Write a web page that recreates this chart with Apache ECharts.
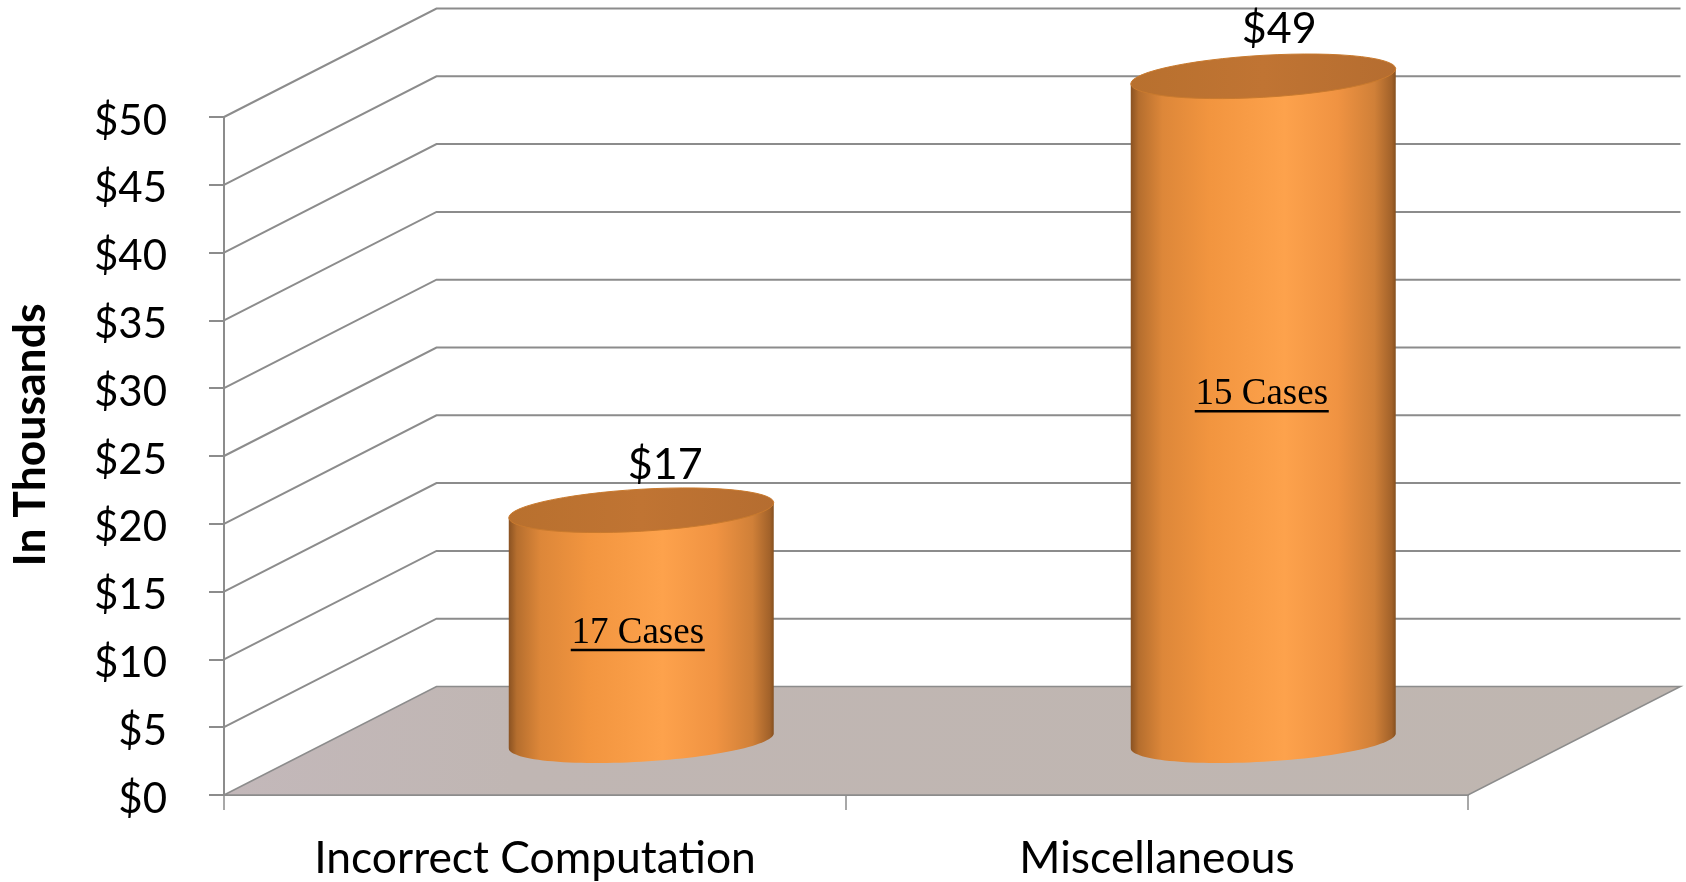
<!DOCTYPE html>
<html>
<head>
<meta charset="utf-8">
<title>Cost by category</title>
<script src="https://cdn.jsdelivr.net/npm/echarts@6/dist/echarts.min.js"></script>
<style>
  html, body { margin: 0; padding: 0; background: #fff; }
  #chart { width: 1686px; height: 882px; }
</style>
</head>
<body>
<div id="chart"></div>
<script>
// Chart data, costs in thousands of dollars
const categories = ['Incorrect Computation', 'Miscellaneous'];
const costs = [17, 49];
const caseCounts = [17, 15];
const valueTicks = [0, 5, 10, 15, 20, 25, 30, 35, 40, 45, 50];

// Height on the value scale at which each "N Cases" note sits
const caseNoteLevels = [7.95, 25.55];
// Sideways nudge of each note and of each "$N" label from its cylinder's centre
const caseNoteNudge = [-3.5, -1.5];
const valueLabelNudge = [24, 16];
const valueLabelLift = [45, 47];

// Pseudo-3D projection: how far the back wall sits from the front plane
const DEPTH_X = 212.5;
const DEPTH_Y = -108.5;
const BAR_RATIO = 0.213;
const ELLIPSE_MINOR = 21;
const ELLIPSE_SHEAR = 7.5;

const AXIS_GREY = '#8c8c8c';
const SANS = 'Lato, Carlito, sans-serif';
const SERIF = '"Liberation Serif", serif';

// Points of the tilted ellipse for a cylinder cap, between two angles
function capPoints(cx, cy, a, from, to) {
  const pts = [];
  const steps = 60;
  for (let i = 0; i <= steps; i++) {
    const t = from + (to - from) * i / steps;
    pts.push([
      cx + a * Math.cos(t),
      cy - ELLIPSE_SHEAR * Math.cos(t) + ELLIPSE_MINOR * Math.sin(t)
    ]);
  }
  return pts;
}

// Floor, side wall gridlines and back wall gridlines for one tick value
function renderWall(params, api) {
  const grid = params.coordSys;
  const v = api.value(1);
  const y = api.coord([0, v])[1];
  const x0 = grid.x;
  const x1 = grid.x + grid.width;
  const lineStyle = { stroke: AXIS_GREY, lineWidth: 2, fill: null };
  const children = [];
  if (v === 0) {
    children.push({
      type: 'polygon',
      shape: { points: [[x0, y], [x0 + DEPTH_X, y + DEPTH_Y], [x1 + DEPTH_X, y + DEPTH_Y], [x1, y]] },
      style: {
        fill: {
          type: 'linear', x: 0, y: 0, x2: 1, y2: 0,
          colorStops: [
            { offset: 0, color: '#c3b8ba' },
            { offset: 0.2, color: '#c0b6b3' },
            { offset: 1, color: '#bfb6b0' }
          ]
        },
        stroke: AXIS_GREY,
        lineWidth: 1.5
      }
    });
  } else {
    children.push({
      type: 'polyline',
      shape: { points: [[x0, y], [x0 + DEPTH_X, y + DEPTH_Y], [x1 + DEPTH_X, y + DEPTH_Y]] },
      style: lineStyle
    });
  }
  return { type: 'group', children };
}

// One cylinder with its value label and its case-count note
function renderCylinder(params, api) {
  const i = api.value(0);
  const v = api.value(1);
  const base = api.coord([i, 0]);
  const top = api.coord([i, v]);
  const a = api.size([1, 0])[0] * BAR_RATIO;
  const cx = base[0] + DEPTH_X / 2;
  const baseY = base[1] + DEPTH_Y / 2;
  const topY = top[1] + DEPTH_Y / 2;

  const bodyPoints = [[cx - a, topY + ELLIPSE_SHEAR]]
    .concat(capPoints(cx, baseY, a, Math.PI, 0))
    .concat([[cx + a, topY - ELLIPSE_SHEAR]]);

  const noteY = api.coord([i, caseNoteLevels[params.dataIndex]])[1] + DEPTH_Y / 2;
  const noteX = cx + caseNoteNudge[params.dataIndex];
  const noteWidth = 134;

  return {
    type: 'group',
    children: [
      {
        type: 'polygon',
        shape: { points: bodyPoints },
        style: {
          fill: {
            type: 'linear', x: 0, y: 0, x2: 1, y2: 0,
            colorStops: [
              { offset: 0, color: '#8a5222' },
              { offset: 0.03, color: '#b56e2e' },
              { offset: 0.12, color: '#dd8739' },
              { offset: 0.3, color: '#f2953f' },
              { offset: 0.58, color: '#fda24c' },
              { offset: 0.78, color: '#f09342' },
              { offset: 0.92, color: '#d08038' },
              { offset: 0.985, color: '#a2622a' },
              { offset: 1, color: '#85501f' }
            ]
          }
        }
      },
      {
        type: 'polygon',
        shape: { points: capPoints(cx, topY, a, 0, Math.PI * 2) },
        style: {
          fill: {
            type: 'linear', x: 0, y: 0, x2: 1, y2: 0,
            colorStops: [
              { offset: 0, color: '#b8702e' },
              { offset: 0.5, color: '#c07433' },
              { offset: 1, color: '#b56d30' }
            ]
          },
          stroke: '#c97a2e',
          lineWidth: 1
        }
      },
      {
        type: 'text',
        style: {
          text: '$' + v,
          x: cx + valueLabelNudge[params.dataIndex],
          y: topY - valueLabelLift[params.dataIndex],
          align: 'center',
          verticalAlign: 'middle',
          fontFamily: SANS,
          fontSize: 43,
          fill: '#000'
        }
      },
      {
        type: 'text',
        style: {
          text: caseCounts[params.dataIndex] + ' Cases',
          x: noteX,
          y: noteY,
          align: 'center',
          verticalAlign: 'middle',
          fontFamily: SERIF,
          fontSize: 37,
          fill: '#000'
        }
      },
      {
        type: 'line',
        shape: {
          x1: noteX - noteWidth / 2, y1: noteY + 17,
          x2: noteX + noteWidth / 2, y2: noteY + 17
        },
        style: { stroke: '#000', lineWidth: 2.5 }
      }
    ]
  };
}

const chart = echarts.init(document.getElementById('chart'), null, { renderer: 'canvas' });
chart.setOption({
  animation: false,
  backgroundColor: '#fff',
  grid: { left: 224, top: 117, width: 1244, height: 678, containLabel: false, outerBoundsMode: 'none' },
  xAxis: {
    type: 'category',
    data: categories,
    axisLine: { lineStyle: { color: AXIS_GREY, width: 2 } },
    axisTick: { show: true, alignWithLabel: false, length: 15, lineStyle: { color: AXIS_GREY, width: 1.5 } },
    axisLabel: { margin: 42, color: '#000', fontFamily: SANS, fontSize: 44.4 },
    splitLine: { show: false }
  },
  yAxis: {
    type: 'value',
    min: 0,
    max: 50,
    interval: 5,
    name: 'In Thousands',
    nameLocation: 'middle',
    nameGap: 171,
    nameRotate: 90,
    nameTextStyle: { color: '#000', fontFamily: SANS, fontWeight: 'bold', fontSize: 44.5, padding: [0, 0, 0, 42] },
    axisLine: { show: true, lineStyle: { color: AXIS_GREY, width: 2 } },
    axisTick: { show: true, length: 15, lineStyle: { color: AXIS_GREY, width: 2 } },
    axisLabel: { margin: 57, color: '#000', fontFamily: SANS, fontSize: 42, verticalAlign: 'top', lineHeight: 8, formatter: v => '$' + v },
    splitLine: { show: false }
  },
  series: [
    {
      type: 'custom',
      name: 'walls',
      silent: true,
      clip: false,
      z: 1,
      renderItem: renderWall,
      encode: { x: 0, y: 1 },
      data: valueTicks.map(v => [0, v])
    },
    {
      type: 'custom',
      name: 'cost',
      silent: true,
      clip: false,
      z: 3,
      renderItem: renderCylinder,
      encode: { x: 0, y: 1 },
      data: costs.map((v, i) => [i, v])
    }
  ]
});
</script>
</body>
</html>
